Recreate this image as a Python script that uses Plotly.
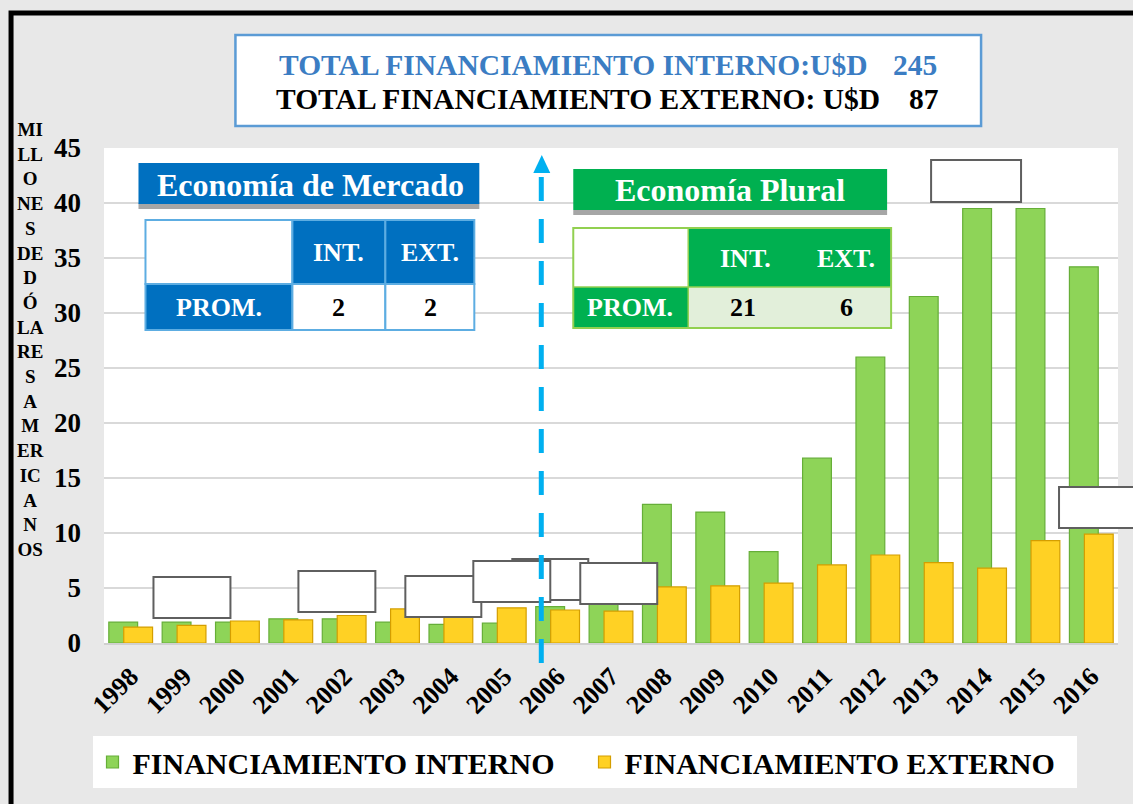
import plotly.graph_objects as go

# ---------------- data ----------------
years = ["1998", "1999", "2000", "2001", "2002", "2003", "2004", "2005", "2006", "2007",
         "2008", "2009", "2010", "2011", "2012", "2013", "2014", "2015", "2016"]
interno = [1.9, 1.9, 1.9, 2.2, 2.2, 1.9, 1.7, 1.8, 3.3, 4.0,
           12.6, 11.9, 8.3, 16.8, 26.0, 31.5, 39.5, 39.5, 34.2]
externo = [1.45, 1.6, 2.0, 2.1, 2.5, 3.1, 2.4, 3.2, 3.0, 2.9,
           5.1, 5.2, 5.45, 7.1, 8.0, 7.3, 6.8, 9.3, 9.9]
series_names = ["FINANCIAMIENTO INTERNO", "FINANCIAMIENTO EXTERNO"]
total_interno = 245
total_externo = 87
mercado_prom = [2, 2]      # INT., EXT.
plural_prom = [21, 6]      # INT., EXT.
y_title_lines = ["MI", "LL", "O", "NE", "S", "DE", "D", "Ó", "LA", "RE", "S",
                 "A", "M", "ER", "IC", "A", "N", "OS"]
y_ticks = [0, 5, 10, 15, 20, 25, 30, 35, 40, 45]

# ---------------- layout helpers ----------------
W, H = 1133, 804
L, R, T, B = 103.5, 1118.0, 148.0, 643.0
FONT = "Liberation Serif"


def X(px):
    return (px - L) / (R - L)


def Y(py):
    return (B - py) / (B - T)


def rect(x0, y0, x1, y1, fill="rgba(0,0,0,0)", line="rgba(0,0,0,0)", lw=0, layer="above"):
    return dict(type="rect", xref="paper", yref="paper", x0=X(x0), x1=X(x1), y0=Y(y1), y1=Y(y0),
                fillcolor=fill, line=dict(color=line, width=lw), layer=layer)


def text(x, y, s, size, color="black", anchor="center"):
    return dict(xref="paper", yref="paper", x=X(x), y=Y(y), text=s, showarrow=False,
                xanchor=anchor, yanchor="middle",
                font=dict(family=FONT, size=size, color=color, weight="bold"))


fig = go.Figure()
fig.add_trace(go.Bar(x=years, y=interno, name=series_names[0], width=0.54, offset=-0.41,
                     marker=dict(color="#8ED458", line=dict(color="#66AE38", width=1.2))))
fig.add_trace(go.Bar(x=years, y=externo, name=series_names[1], width=0.54, offset=-0.13,
                     marker=dict(color="#FFD124", line=dict(color="#D49E00", width=1.2))))

shapes = []
annotations = []

# outer black frame
shapes.append(rect(10.5, 13, 1150, 830, line="black", lw=5, layer="below"))

# header total box
shapes.append(rect(235, 35, 981, 126, fill="white", line="#5B9BD5", lw=2.5))
annotations.append(text(277, 65, "TOTAL FINANCIAMIENTO INTERNO:U$D", 29.5, "#3B7DC3", "left"))
annotations.append(text(939, 65, str(total_interno), 29.5, "#3B7DC3", "right"))
annotations.append(text(274, 99, "TOTAL FINANCIAMIENTO EXTERNO: U$D", 29.5, "black", "left"))
annotations.append(text(941, 99, str(total_externo), 29.5, "black", "right"))

# Economia de Mercado block
BLUE = "#0070C0"
BL = "#5DADE2"
shapes.append(rect(138, 203, 479, 209, fill="#A6A6A6"))
shapes.append(rect(138, 163, 479, 204, fill=BLUE))
annotations.append(text(310, 185, "Economía de Mercado", 32, "white"))
shapes.append(rect(145, 220, 292, 284, fill="white", line=BL, lw=2))
shapes.append(rect(292, 220, 385, 284, fill=BLUE, line=BL, lw=2))
shapes.append(rect(385, 220, 474, 284, fill=BLUE, line=BL, lw=2))
shapes.append(rect(145, 284, 292, 330, fill=BLUE, line=BL, lw=2))
shapes.append(rect(292, 284, 385, 330, fill="white", line=BL, lw=2))
shapes.append(rect(385, 284, 474, 330, fill="white", line=BL, lw=2))
annotations.append(text(338, 252, "INT.", 26, "white"))
annotations.append(text(430, 252, "EXT.", 26, "white"))
annotations.append(text(219, 307, "PROM.", 26, "white"))
annotations.append(text(338, 307, str(mercado_prom[0]), 26, "black"))
annotations.append(text(430, 307, str(mercado_prom[1]), 26, "black"))

# Economia Plural block
GREEN = "#00B050"
GL = "#92D050"
shapes.append(rect(573, 210, 887, 215, fill="#A6A6A6"))
shapes.append(rect(573, 169, 887, 210, fill=GREEN))
annotations.append(text(730, 190, "Economía Plural", 32, "white"))
shapes.append(rect(573, 228, 688, 287, fill="white"))
shapes.append(rect(688, 228, 891, 287, fill=GREEN))
shapes.append(rect(573, 287, 688, 328, fill=GREEN))
shapes.append(rect(688, 287, 891, 328, fill="#E2EFDA"))
shapes.append(rect(573, 228, 891, 328, line=GL, lw=2))
shapes.append(dict(type="line", xref="paper", yref="paper", x0=X(573), x1=X(891), y0=Y(287), y1=Y(287),
                   line=dict(color=GL, width=1.5)))
shapes.append(dict(type="line", xref="paper", yref="paper", x0=X(688), x1=X(688), y0=Y(228), y1=Y(328),
                   line=dict(color=GL, width=1.5)))
annotations.append(text(745, 258, "INT.", 26, "white"))
annotations.append(text(846, 258, "EXT.", 26, "white"))
annotations.append(text(630, 307, "PROM.", 26, "white"))
annotations.append(text(743, 307, str(plural_prom[0]), 26, "black"))
annotations.append(text(846, 307, str(plural_prom[1]), 26, "black"))

# empty white label boxes
GRAYB = "#5F5F5F"
for (x0, y0, x1, y1) in [(153, 577, 230, 618), (298, 571, 375, 612), (405, 576, 481, 617),
                         (512, 559, 588, 600), (473, 561, 550, 602), (580, 563, 657, 604),
                         (1059, 487, 1145, 528), (931, 160, 1021, 202)]:
    shapes.append(rect(x0, y0, x1, y1, fill="white", line=GRAYB, lw=2))

# dashed arrow
ARROW = "#00B0F0"
shapes.append(dict(type="line", xref="paper", yref="paper", x0=X(541), x1=X(541), y0=Y(663), y1=Y(176),
                   line=dict(color=ARROW, width=5, dash="24px,18px")))
shapes.append(dict(type="path", xref="paper", yref="paper",
                   path="M {} {} L {} {} L {} {} Z".format(X(533), Y(173), X(550), Y(173), X(541.5), Y(155)),
                   fillcolor=ARROW, line=dict(color=ARROW, width=0)))

# vertical stacked y title
annotations.append(dict(xref="paper", yref="paper", x=X(30), y=Y(339), text="<br>".join(y_title_lines),
                        showarrow=False, xanchor="center", yanchor="middle", align="center",
                        font=dict(family=FONT, size=19, color="black", weight="bold")))

fig.update_layout(
    width=W, height=H,
    margin=dict(l=L, r=W - R, t=T, b=H - B, pad=0),
    paper_bgcolor="#E8E8E8",
    plot_bgcolor="white",
    barmode="overlay",
    showlegend=True,
    legend=dict(orientation="h", x=X(92), y=Y(736), xanchor="left", yanchor="top",
                bgcolor="white", font=dict(family=FONT, size=30, color="black", weight="bold"),
                itemwidth=30, traceorder="normal", borderwidth=0, entrywidth=447),
    xaxis=dict(type="category", tickangle=-45, showgrid=False, showline=True, linecolor="#D0D0D0",
               linewidth=2, ticks="", ticklabelstandoff=6,
               tickfont=dict(family=FONT, size=26, color="black", weight="bold"),
               range=[-0.5, len(years) - 0.5]),
    yaxis=dict(range=[0, 45], tickvals=y_ticks, showgrid=True, gridcolor="#D9D9D9", gridwidth=2,
               zeroline=False, ticks="", ticklabelstandoff=22,
               tickfont=dict(family=FONT, size=27, color="black", weight="bold")),
    shapes=shapes,
    annotations=annotations,
)

fig.write_html("out.html", config={"displayModeBar": False},
               post_script="document.body.style.margin='0';document.body.style.overflow='hidden';")
